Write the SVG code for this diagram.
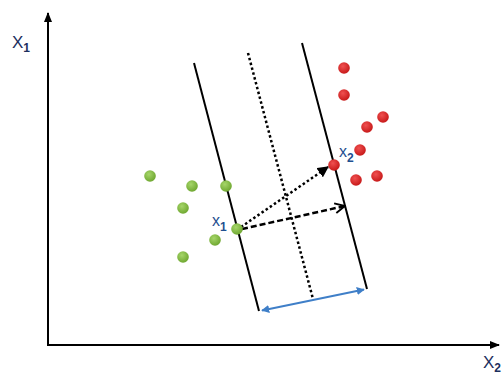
<svg xmlns="http://www.w3.org/2000/svg" width="503" height="376" viewBox="0 0 503 376">
<defs>
<marker id="axisHead" viewBox="0 0 10 10" refX="9" refY="5" markerWidth="5" markerHeight="5" orient="auto" markerUnits="strokeWidth"><path d="M0,1 L10,5 L0,9 z" fill="#000"/></marker>
<marker id="solidHead" viewBox="0 0 10 10" refX="9" refY="5" markerWidth="4.5" markerHeight="4.5" orient="auto" markerUnits="strokeWidth"><path d="M0,0 L10,5 L0,10 z" fill="#000"/></marker>
<marker id="openHead" viewBox="0 0 10 10" refX="9" refY="5" markerWidth="5" markerHeight="5" orient="auto" markerUnits="strokeWidth"><path d="M1,1 L9,5 L1,9" fill="none" stroke="#000" stroke-width="1.5"/></marker>
<marker id="blueHead" viewBox="0 0 10 10" refX="9" refY="5" markerWidth="4" markerHeight="4" orient="auto-start-reverse" markerUnits="strokeWidth"><path d="M0,0 L10,5 L0,10 z" fill="#3f7fc8"/></marker>
<radialGradient id="gG" cx="0.4" cy="0.35" r="0.7"><stop offset="0" stop-color="#a6d66a"/><stop offset="1" stop-color="#6ba42c"/></radialGradient>
<radialGradient id="gR" cx="0.4" cy="0.35" r="0.7"><stop offset="0" stop-color="#f05050"/><stop offset="1" stop-color="#c41515"/></radialGradient>
</defs>
<style>
.axis{stroke:#000;stroke-width:2;fill:none}
.line{stroke:#000;stroke-width:2;fill:none}
.dot{stroke:#000;stroke-width:2.5;stroke-dasharray:2.5 2.5;fill:none}
.g{fill:url(#gG)}
.r{fill:url(#gR)}
.lbl{font-family:"Liberation Sans",Arial,sans-serif;font-size:17px;fill:#1c2f5e}
.plbl{font-family:"Liberation Sans",Arial,sans-serif;font-size:16px;fill:#1f4f90}
.sub{font-size:12px;font-weight:bold}
</style>
<rect width="503" height="376" fill="#fff"/>
<g id="connectors">
<line class="axis" x1="48" y1="346" x2="48" y2="13" marker-end="url(#axisHead)"/>
<line class="axis" x1="47" y1="345" x2="499" y2="345" marker-end="url(#axisHead)"/>
<line class="line" x1="194" y1="63" x2="259" y2="311"/>
<line class="dot" x1="248" y1="53" x2="313" y2="299"/>
<line class="line" x1="302" y1="43" x2="367" y2="289"/>
<line stroke="#3f7fc8" stroke-width="2" x1="262" y1="310.4" x2="364" y2="289.6" marker-start="url(#blueHead)" marker-end="url(#blueHead)"/>
<line class="dot" x1="241" y1="227" x2="328" y2="167" marker-end="url(#solidHead)"/>
<line stroke="#000" stroke-width="2.5" stroke-dasharray="6 3" x1="242" y1="229" x2="345" y2="206" marker-end="url(#openHead)"/>
</g>
<g id="green-points">
<circle class="g" cx="150" cy="176" r="5.8"/>
<circle class="g" cx="192" cy="186" r="5.8"/>
<circle class="g" cx="226" cy="186" r="5.8"/>
<circle class="g" cx="183" cy="208" r="5.8"/>
<circle class="g" cx="215" cy="240" r="5.8"/>
<circle class="g" cx="183" cy="257" r="5.8"/>
</g>
<g id="x1-point"><circle class="g" cx="237" cy="229" r="5.8"/></g>
<g id="red-points">
<circle class="r" cx="344" cy="68" r="5.8"/>
<circle class="r" cx="344" cy="95" r="5.8"/>
<circle class="r" cx="367" cy="127" r="5.8"/>
<circle class="r" cx="383" cy="117" r="5.8"/>
<circle class="r" cx="360" cy="150" r="5.8"/>
<circle class="r" cx="356" cy="180" r="5.8"/>
<circle class="r" cx="377" cy="176" r="5.8"/>
</g>
<g id="x2-point"><circle class="r" cx="334" cy="165" r="5.8"/></g>
<g id="labels">
<text class="lbl" x="12" y="48">X<tspan class="sub" dy="4">1</tspan></text>
<text class="lbl" x="483" y="368">X<tspan class="sub" dy="4">2</tspan></text>
<text class="plbl" x="212" y="226">x<tspan class="sub" dy="5">1</tspan></text>
<text class="plbl" x="339" y="157">x<tspan class="sub" dy="5">2</tspan></text>
</g>
</svg>
